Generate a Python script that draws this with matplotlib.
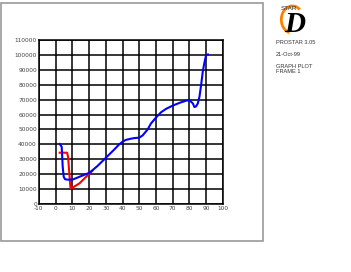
import matplotlib.pyplot as plt
from matplotlib.patches import Rectangle, Arc

# curve data
blue_x = [2.4, 3.6, 4.2, 4.8, 5.6, 7.5, 10.4, 14.3, 20.3, 25, 30, 35, 38, 40, 42, 45, 47, 50, 52,
          55, 57, 60, 63, 66, 70, 74, 78, 80, 82, 83, 84, 85, 86, 87, 88, 89, 90, 91]
blue_y = [40200, 38400, 25000, 18300, 16600, 16300, 16500, 18300, 21000, 25500, 31000, 36500, 40000,
          41800, 43000, 43800, 44200, 44500, 46000, 50000, 54000, 58000, 61500, 63800, 66000, 67800,
          69300, 69600, 67500, 65000, 65500, 67500, 72000, 80000, 89000, 95000, 100000, 100300]
red_x = [2.4, 6.8, 7.4, 8.8, 9.4, 14.3, 20.3, 22]
red_y = [34400, 34400, 31700, 11200, 10500, 13900, 20600, 22300]

x_ticks = list(range(-10, 101, 10))
y_ticks = list(range(0, 110001, 10000))

fig = plt.figure(figsize=(3.51, 2.72), dpi=100)

# grey frame around the plot region
fig.patches.append(Rectangle((0.003, 0.114), 0.746, 0.875, transform=fig.transFigure,
                             fill=False, edgecolor='#999999', linewidth=1.2))

ax = fig.add_axes([0.111, 0.25, 0.524, 0.603])
ax.plot(red_x, red_y, color='red', linewidth=1.5)
ax.plot(blue_x, blue_y, color='blue', linewidth=1.5)
ax.set_xlim(-10, 100)
ax.set_ylim(0, 110000)
ax.set_xticks(x_ticks)
ax.set_yticks(y_ticks)
ax.set_xticklabels([str(t) for t in x_ticks])
ax.set_yticklabels([str(t) for t in y_ticks])
ax.tick_params(length=0, labelsize=4.2, labelcolor='#444444', pad=1.5)
ax.grid(True, color='black', linewidth=1.1)
ax.set_axisbelow(True)
for s in ax.spines.values():
    s.set_linewidth(1.1)

# logo and info text on the right
fig.patches.append(Arc((0.833, 0.928), 0.063, 0.1, theta1=60, theta2=260,
                       transform=fig.transFigure, color='#ff8000', linewidth=2.0))
fig.text(0.800, 0.968, "STAR", fontsize=4.6, family='Liberation Sans', color='#333333', va='center')
fig.text(0.840, 0.882, "D", fontsize=21, family='Liberation Serif', style='italic',
         weight='bold', color='black', ha='center', va='baseline')
info = ["PROSTAR 3.05", "21-Oct-99", "GRAPH PLOT", "FRAME 1"]
info_y = [0.838, 0.794, 0.750, 0.733]
for t, yy in zip(info, info_y):
    fig.text(0.786, yy, t, fontsize=4.1, family='Liberation Sans', color='#333333', va='baseline')

fig.savefig("out.png", dpi=100)
